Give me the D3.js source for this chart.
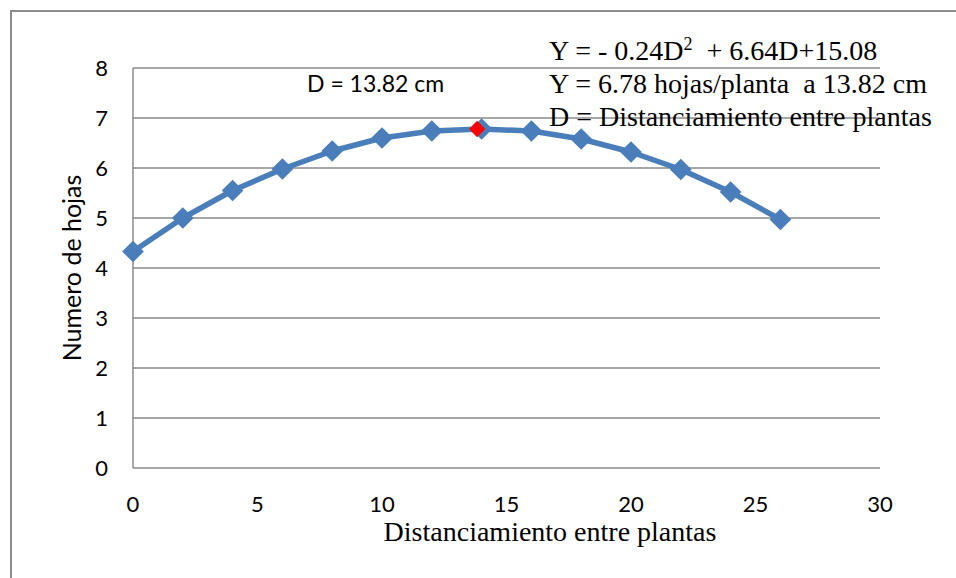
<!DOCTYPE html>
<html><head><meta charset="utf-8">
<script src="https://cdn.jsdelivr.net/npm/d3@7"></script>
<style>body{margin:0;background:#fff}svg{display:block}text{white-space:pre}</style>
</head><body>
<script>
const distances = [0, 2, 4, 6, 8, 10, 12, 14, 16, 18, 20, 22, 24, 26];
const hojas = [4.33, 5.0, 5.55, 5.98, 6.34, 6.6, 6.74, 6.78, 6.74, 6.58, 6.32, 5.97, 5.52, 4.97];
const optimo = [{d: 13.82, y: 6.78}];
const xTicks = [0, 5, 10, 15, 20, 25, 30];
const yTicks = [0, 1, 2, 3, 4, 5, 6, 7, 8];
const equationLines = ["Y = - 0.24D", "Y = 6.78 hojas/planta  a 13.82 cm", "D = Distanciamiento entre plantas"];

const W = 956, H = 578;
const svg = d3.select("body").append("svg").attr("width", W).attr("height", H);

// outer frame
svg.append("path").attr("d", `M11,${H} L11,11 L${W},11`).attr("fill", "none")
  .attr("stroke", "#8c8c8c").attr("stroke-width", 2);

const x = d3.scaleLinear().domain([0, 30]).range([133, 880]);
const y = d3.scaleLinear().domain([0, 8]).range([468, 68]);

// gridlines
svg.append("g").selectAll("line").data(yTicks.filter(t => t > 0)).join("line")
  .attr("x1", x(0)).attr("x2", x(30)).attr("y1", d => y(d)).attr("y2", d => y(d))
  .attr("stroke", "#8a8a8a").attr("stroke-width", 1.3);

// axes lines
svg.append("line").attr("x1", x(0)).attr("x2", x(0)).attr("y1", y(0)).attr("y2", y(8))
  .attr("stroke", "#8a8a8a").attr("stroke-width", 1.5);
svg.append("line").attr("x1", x(0)).attr("x2", x(30)).attr("y1", y(0)).attr("y2", y(0))
  .attr("stroke", "#8a8a8a").attr("stroke-width", 1.5);

const tickFont = "Lato, 'Open Sans', sans-serif";
svg.append("g").selectAll("text").data(yTicks).join("text")
  .attr("x", 108).attr("y", d => y(d) + 8).attr("text-anchor", "end")
  .attr("font-family", tickFont).attr("font-size", 22).attr("fill", "#000").text(d => d);
svg.append("g").selectAll("text").data(xTicks).join("text")
  .attr("x", d => x(d)).attr("y", 512).attr("text-anchor", "middle")
  .attr("font-family", tickFont).attr("font-size", 22).attr("fill", "#000").text(d => d);

// axis titles
svg.append("text").attr("transform", "translate(81,268) rotate(-90)").attr("text-anchor", "middle")
  .attr("font-family", tickFont).attr("font-size", 25).text("Numero de hojas");
const serif = "'Liberation Serif', 'Times New Roman', serif";
svg.append("text").attr("x", 550).attr("y", 541).attr("text-anchor", "middle")
  .attr("font-family", serif).attr("font-size", 28)
  .text("Distanciamiento entre plantas");

// line
const line = d3.line().x((d, i) => x(distances[i])).y(d => y(d));
svg.append("path").datum(hojas).attr("d", line).attr("fill", "none")
  .attr("stroke", "#4a7ebb").attr("stroke-width", 5.5).attr("stroke-linejoin", "round");
const diamond = d3.symbol().type(d3.symbolDiamond2).size(300);
svg.append("g").selectAll("path").data(hojas).join("path")
  .attr("d", diamond).attr("transform", (d, i) => `translate(${x(distances[i])},${y(d)})`)
  .attr("fill", "#4a7ebb");
svg.append("g").selectAll("path").data(optimo).join("path")
  .attr("d", d3.symbol().type(d3.symbolDiamond2).size(170))
  .attr("transform", d => `translate(${x(d.d)},${y(d.y)})`).attr("fill", "#ff0000");

// annotations
svg.append("text").attr("x", 307).attr("y", 92).attr("font-family", tickFont).attr("font-size", 23)
  .text("D = 13.82 cm");
const t1 = svg.append("text").attr("x", 549).attr("y", 60).attr("font-family", serif).attr("font-size", 28);
t1.append("tspan").text(equationLines[0]);
t1.append("tspan").attr("dy", -10).attr("font-size", 18).text("2");
t1.append("tspan").attr("dy", 10).text("  + 6.64D+15.08");
svg.append("text").attr("x", 549).attr("y", 93).attr("font-family", serif).attr("font-size", 28)
  .text(equationLines[1]);
svg.append("text").attr("x", 549).attr("y", 126).attr("font-family", serif).attr("font-size", 28)
  .text(equationLines[2]);
</script>
</body></html>
